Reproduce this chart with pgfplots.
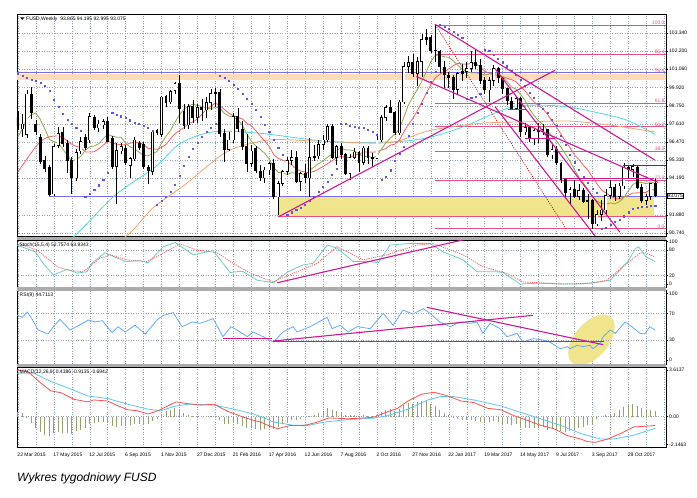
\documentclass[border=0pt]{standalone}
\usepackage{pgfplots}
\pgfplotsset{compat=1.18}
\usepackage{pgfplotstable}
\usepackage{fontspec}
\setmainfont{Liberation Sans}
\definecolor{gridc}{RGB}{150,160,180}
\definecolor{maolive}{RGB}{140,170,70}
\definecolor{mared}{RGB}{250,95,95}
\definecolor{macyan}{RGB}{80,215,225}
\definecolor{maorange}{RGB}{240,165,115}
\definecolor{sarblue}{RGB}{95,85,235}
\definecolor{fibc}{RGB}{232,80,130}
\definecolor{mag}{RGB}{205,25,150}
\definecolor{hlblue}{RGB}{120,110,230}
\definecolor{peach}{RGB}{255,220,185}
\definecolor{ybox}{RGB}{240,228,140}
\definecolor{stochg}{RGB}{110,205,195}
\definecolor{stochr}{RGB}{245,100,100}
\definecolor{rsib}{RGB}{100,170,250}
\definecolor{macdr}{RGB}{250,80,80}
\definecolor{macdc}{RGB}{90,200,245}
\definecolor{histc}{RGB}{150,160,115}
\newcommand\tf{\fontsize{5}{6}\selectfont}

\pgfplotstableread{
i O H L C
0 98.05 98.45 97.20 97.50
1 97.30 98.25 96.80 97.60
2 96.95 99.75 96.70 99.50
3 99.50 99.95 97.90 98.30
4 97.60 97.85 96.90 97.10
5 96.80 96.95 95.10 95.25
6 95.30 95.60 94.60 94.80
7 94.85 95.00 93.10 93.15
8 93.20 96.35 93.05 96.20
9 96.25 97.40 96.10 97.00
10 97.10 97.45 96.15 96.40
11 96.40 96.60 94.50 95.30
12 95.30 95.50 93.20 94.20
13 94.20 96.05 94.00 95.80
14 95.90 96.80 95.70 96.50
15 96.75 97.00 95.95 96.10
16 96.60 98.30 96.40 98.10
17 98.05 98.20 97.20 97.35
18 97.35 97.85 97.10 97.60
19 97.55 97.95 97.30 97.75
20 97.75 98.05 96.45 96.50
21 96.70 96.85 94.80 94.90
22 94.95 96.40 92.55 95.95
23 95.90 96.40 95.70 96.20
24 96.10 96.30 95.00 95.15
25 95.00 95.55 94.20 95.45
26 95.40 96.80 95.30 96.60
27 96.40 96.55 96.00 96.10
28 96.30 96.45 94.80 94.90
29 94.90 95.00 93.80 94.65
30 94.60 97.20 94.40 97.10
31 97.20 97.30 96.90 97.05
32 96.95 99.40 96.80 99.30
33 99.35 99.45 98.70 98.95
34 99.00 99.75 98.90 99.65
35 99.70 100.25 99.50 100.15
36 100.15 100.70 97.70 98.60
37 98.40 98.90 97.30 97.50
38 97.55 98.85 97.30 98.70
39 98.70 99.10 97.70 98.00
40 98.00 98.90 97.70 98.65
41 98.65 99.20 97.80 98.50
42 98.50 99.30 98.00 98.95
43 98.95 99.80 98.50 99.55
44 99.55 99.90 98.70 99.60
45 99.60 99.80 96.80 97.00
46 97.00 97.30 95.20 96.00
47 96.00 97.10 95.90 96.60
48 96.60 98.30 96.40 98.10
49 98.10 98.60 97.10 97.30
50 97.30 97.80 96.00 96.20
51 96.20 97.00 94.60 95.10
52 95.10 96.30 94.90 95.90
53 96.10 96.20 94.50 94.65
54 94.65 95.00 94.00 94.20
55 94.20 94.90 93.90 94.70
56 94.70 95.20 94.40 95.10
57 95.10 95.40 92.90 93.05
58 93.00 94.00 91.90 93.85
59 93.85 94.70 93.70 94.60
60 94.60 95.50 94.40 95.30
61 95.30 95.95 95.00 95.50
62 95.50 95.90 93.90 94.00
63 94.00 94.60 93.40 94.50
64 94.50 95.10 93.90 94.20
65 94.20 96.70 93.00 95.50
66 95.50 96.30 95.30 95.60
67 95.60 96.60 95.40 96.30
68 96.30 96.90 96.00 96.60
69 96.60 97.60 96.50 97.45
70 97.45 97.60 95.40 95.50
71 95.50 96.30 95.00 96.20
72 96.20 96.40 95.40 95.70
73 95.70 95.80 94.40 94.50
74 94.50 95.70 94.10 95.50
75 95.50 96.10 95.40 95.85
76 95.85 95.90 94.60 95.20
77 95.20 96.20 95.00 96.10
78 96.10 96.20 95.10 95.50
79 95.50 95.80 94.90 95.45
80 95.45 96.90 95.40 96.60
81 96.60 98.20 96.50 98.00
82 98.00 98.80 97.80 98.65
83 98.65 99.10 98.30 98.35
84 98.35 98.40 96.90 97.05
85 97.05 99.10 96.90 99.00
86 99.00 101.50 98.90 101.25
87 101.25 101.90 100.80 101.50
88 101.50 102.00 100.60 100.80
89 100.80 101.80 100.00 101.55
90 101.55 103.30 100.60 102.95
91 102.95 103.60 102.60 103.05
92 103.05 103.20 102.10 102.25
93 102.25 103.85 101.50 102.20
94 102.20 102.30 100.80 101.20
95 101.20 101.60 99.90 100.70
96 100.70 100.90 99.90 100.55
97 100.55 100.70 99.20 99.80
98 99.80 100.90 99.50 100.80
99 100.80 101.40 100.30 100.90
100 100.90 101.50 100.50 101.10
101 101.10 102.20 100.90 101.50
102 101.50 102.30 101.10 101.30
103 101.30 101.70 100.10 100.35
104 100.35 100.60 99.50 99.75
105 99.75 100.60 99.00 100.35
106 100.35 101.30 100.00 101.10
107 101.10 101.20 100.20 100.50
108 100.50 100.60 99.50 99.85
109 99.85 99.90 98.80 99.05
110 99.05 99.30 98.50 98.60
111 98.60 99.40 98.50 99.20
112 99.20 99.30 96.80 97.10
113 97.10 97.70 96.90 97.40
114 97.40 97.50 96.50 96.70
115 96.70 97.30 96.30 97.20
116 97.20 97.70 96.40 97.15
117 97.15 97.60 96.90 97.25
118 97.25 97.30 95.50 95.65
119 95.65 96.30 95.40 96.00
120 96.00 96.25 95.00 95.15
121 95.15 95.20 93.90 94.10
122 94.10 94.20 93.00 93.25
123 93.25 93.65 92.55 93.50
124 93.50 94.10 92.95 93.05
125 93.05 93.85 92.85 93.40
126 93.40 93.60 92.60 92.70
127 92.70 93.20 91.60 92.80
128 92.80 92.90 91.00 91.30
129 91.30 92.20 91.20 91.90
130 91.90 92.80 91.50 92.20
131 92.20 93.50 91.90 93.10
132 93.10 94.10 92.90 93.60
133 93.60 93.80 92.75 93.05
134 93.05 93.90 92.90 93.70
135 93.70 95.15 93.50 94.90
136 94.90 95.05 94.20 94.75
137 94.75 95.10 94.30 94.95
138 94.90 95.00 93.50 93.60
139 93.60 93.80 92.60 92.80
140 92.80 93.20 92.50 93.05
141 93.05 93.90 92.80 93.85
142 93.865 94.195 92.995 93.075
}\ohlc

\pgfplotstableread{
x y
0 96.8
1 97.3
2 97.9
3 98.2
4 98.3
5 97.9
6 97.3
7 96.65
8 96.49
9 96.41
10 96.03
11 95.65
12 95.29
13 95.36
14 95.57
15 95.94
16 96.18
17 96.22
18 96.37
19 96.68
20 96.96
21 96.85
22 96.78
23 96.77
24 96.4
25 96.16
26 96.04
27 95.83
28 95.63
29 95.6
30 95.74
31 95.88
32 96.39
33 96.83
34 97.21
35 97.72
36 98.18
37 98.54
38 98.74
39 98.86
40 98.78
41 98.72
42 98.63
43 98.56
44 98.68
45 98.62
46 98.28
47 98.11
48 98.04
49 97.89
50 97.54
51 96.99
52 96.53
53 96.23
54 96.01
55 95.77
56 95.39
57 94.86
58 94.57
59 94.51
60 94.43
61 94.54
62 94.51
63 94.49
64 94.38
65 94.68
66 94.9
67 95.11
68 95.28
69 95.52
70 95.71
71 95.92
72 96.11
73 95.98
74 95.97
75 95.91
76 95.74
77 95.57
78 95.57
79 95.48
80 95.59
81 96.03
82 96.42
83 96.73
84 96.96
85 97.33
86 98.04
87 98.8
88 99.33
89 99.77
90 100.31
91 100.89
92 101.54
93 101.94
94 101.94
95 101.84
96 101.81
97 101.59
98 101.32
99 101.05
100 100.91
101 100.82
102 100.83
103 100.79
104 100.69
105 100.76
106 100.79
107 100.74
108 100.59
109 100.28
110 99.94
111 99.8
112 99.47
113 99.1
114 98.55
115 98.14
116 97.8
117 97.58
118 97.21
119 96.81
120 96.56
121 96.15
122 95.72
123 95.26
124 94.74
125 94.26
126 93.89
127 93.49
128 93.01
129 92.74
130 92.61
131 92.56
132 92.63
133 92.58
134 92.71
135 92.97
136 93.4
137 93.78
138 93.96
139 93.92
140 93.85
141 93.95
142 93.87
}\olive

\pgfplotstableread{
x y
0 94.6
1 95.0
2 95.4
3 95.8
4 96.2
5 96.5
6 96.7
7 96.8
8 96.85
9 96.85
10 96.75
11 96.55
12 96.33
13 96.2
14 96.12
15 95.85
16 95.84
17 95.86
18 96.04
19 96.27
20 96.52
21 96.42
22 96.34
23 96.31
24 96.3
25 96.4
26 96.46
27 96.43
28 96.33
29 96.07
30 96.05
31 96.01
32 96.13
33 96.32
34 96.68
35 97.0
36 97.2
37 97.38
38 97.63
39 97.74
40 97.94
41 98.22
42 98.55
43 98.73
44 98.93
45 98.75
46 98.53
47 98.29
48 98.13
49 98.03
50 97.93
51 97.66
52 97.5
53 97.19
54 96.86
55 96.53
56 96.19
57 95.68
58 95.44
59 95.33
60 95.23
61 95.03
62 94.78
63 94.65
64 94.58
65 94.55
66 94.62
67 94.78
68 94.93
69 95.11
70 95.3
71 95.48
72 95.57
73 95.5
74 95.5
75 95.65
76 95.7
77 95.85
78 95.85
79 95.83
80 95.86
81 95.97
82 96.06
83 96.28
84 96.34
85 96.6
86 97.12
87 97.58
88 97.96
89 98.45
90 98.97
91 99.55
92 100.08
93 100.51
94 100.75
95 100.91
96 101.08
97 101.29
98 101.43
99 101.4
100 101.37
101 101.43
102 101.41
103 101.21
104 100.95
105 100.81
106 100.72
107 100.67
108 100.6
109 100.49
110 100.4
111 100.27
112 99.98
113 99.7
114 99.33
115 99.01
116 98.77
117 98.57
118 98.21
119 97.82
120 97.41
121 96.97
122 96.52
123 96.13
124 95.65
125 95.37
126 95.01
127 94.71
128 94.25
129 93.85
130 93.46
131 93.27
132 93.08
133 92.92
134 92.89
135 93.02
136 93.11
137 93.26
138 93.27
139 93.28
140 93.3
141 93.5
142 93.43
}\redma

\pgfplotstableread{
x y
4 88.6
12.8 90.6
21.7 93.13
30.6 94.9
36.2 96.39
43.6 97.12
54 97.02
65.8 96.6
74 96.43
80 96.47
85 96.5
91.8 96.77
99.3 97.44
105.2 98.17
110.4 98.7
115.6 98.8
122.3 98.7
128.2 98.38
135.6 97.86
142 96.95
}\cyanma

\pgfplotstableread{
x y
15 88.9
24.4 90.6
30 92.3
37.3 93.8
42 94.9
47.3 95.97
55.8 96.6
65 96.55
74 96.45
80.5 96.4
85 96.55
91.8 97.2
102.9 97.65
114 97.75
121 97.8
125.2 97.75
133 97.5
142 97.1
}\orangema

\pgfplotstableread{
x y
0 100.76
1 100.63
2 100.55
3 100.42
4 100.32
5 100.21
6 100.0
7 99.71
8 99.16
9 98.7
10 98.28
11 97.86
12 97.6
13 97.4
14 97.2
15 93.05
16 93.2
17 93.45
18 93.75
19 94.1
20 94.55
21 98.3
22 98.2
23 98.1
24 98.0
25 97.85
26 97.7
27 97.6
28 97.5
29 97.35
30 97.2
31 92.55
32 92.75
33 93.0
34 93.35
35 93.8
36 94.35
37 95.0
38 95.55
39 96.05
40 96.45
41 96.8
42 97.1
43 97.35
44 97.6
45 100.63
46 100.5
47 100.34
48 100.07
49 99.86
50 99.54
51 99.2
52 98.9
53 98.5
54 98.07
55 97.55
56 97.1
57 96.6
58 96.1
59 95.7
60 91.9
61 92.05
62 92.2
63 92.35
64 92.55
65 92.75
66 93.05
67 93.35
68 93.65
69 94.0
70 94.4
71 94.8
72 97.6
73 97.6
74 97.5
75 97.44
76 97.4
77 97.36
78 97.23
79 97.1
80 96.95
81 94.1
82 94.3
83 94.7
84 95.3
85 95.75
86 96.2
87 96.9
88 97.6
89 98.3
90 98.9
91 99.6
92 100.3
93 100.9
94 103.85
95 103.75
96 103.6
97 103.45
98 103.25
99 103.05
100 99.2
101 99.25
102 99.35
103 99.5
104 102.3
105 102.2
106 101.95
107 101.75
108 101.5
109 101.25
110 100.97
111 100.7
112 100.4
113 100.0
114 99.6
115 99.25
116 98.9
117 98.6
118 98.3
119 97.9
120 97.5
121 96.9
122 96.3
123 95.7
124 95.2
125 94.75
126 94.3
127 93.9
128 93.55
129 93.3
130 91.0
131 91.05
132 91.25
133 91.45
134 91.6
135 91.8
136 92.05
137 92.3
138 92.35
139 92.4
140 92.42
141 92.45
142 92.48
}\sar

\pgfplotstableread{
x y
-0.2 92
3.9 76
5.6 49
7.9 21
11 35
13.2 26
15.4 29
16.5 49
19.4 74
23.9 53
27.2 55
29 50
32.4 88
35 98
39.1 69
43.5 79
47.3 27
49.5 30
50.2 29
53.3 9
56.9 3
60.2 29
63.5 45
65.8 49
68.9 92
71.1 85
74.7 53
78.5 53
80.3 50
82.9 92
87.4 96
91.8 96
94.7 76
99.2 57
102.3 29
106.7 29
108.1 27
111.9 0
115.7 2
121.5 0
125.4 0
129.6 5
132 9
135.9 53
137.6 84
138.3 88
139.9 65
142 52.76
}\stochmain

\pgfplotstableread{
x y
-0.2 97
4.3 80
8.8 41
11 33
14.5 29
18.3 61
20.6 69
24.3 57
28.8 53
31.7 69
36.1 95
39.9 80
44.4 74
47.5 52
51.7 26
56.9 5
61.3 25
66.7 49
71.1 88
76.9 57
82.2 69
88.9 92
92.5 96
99.2 69
103.6 41
109 25
112.5 5
121.5 0
128.1 2
131.2 9
134.8 41
138.6 73
139.7 74
142 63.93
}\stochsig

\pgfplotstableread{
x y
-0.2 67.5
1 64
2.1 72
3.2 61
4.5 45
6.7 39
7.9 50
9.4 61
11.6 45
13.9 53
15.7 60
17.2 57
18.8 59
21 41
22.3 50
23.9 42
26.1 52
28.4 39
31 60
32.4 67
34.6 71
36.6 50
38.8 57
40.6 55
43.5 62
45.7 35
47.5 50
48.8 45
51.1 35
52.4 42
54.6 35
56.9 27
59.1 42
61.3 50
62.2 42
65.1 50
68.9 64
70 47
71.8 52
73.6 42
75.6 50
78.5 47
81.4 70
83.6 52
85.8 75
88 69
90.3 77
91.8 70
94 57
96.3 50
98.5 57
100.7 55
102.3 57
103.6 40
105.2 55
107.4 47
109 35
111.2 40
112.5 27
114.8 32
117 30
118.5 27
120.8 17
122.5 20
123 17
124.6 22
125.9 20
127.5 22
128.1 17
129.7 25
130.4 35
132 45
133.1 40
135.3 57
136.8 50
138.6 40
139.7 39
140.8 50
142 44.71
}\rsi

\pgfplotstableread{
x y
-0.2 3.6
2.2 3.5
5.1 2.6
7.3 2.0
9.6 1.85
12.5 1.34
15.6 1.14
16.9 1.29
20 1.21
22.3 0.83
24.5 0.53
26.7 0.45
29 0.2
31.2 0.45
33.4 0.83
35.2 1.14
37.9 1.0
40.8 0.89
43.7 0.96
46.8 0.4
50.3 -0.05
52.6 -0.3
54.1 -0.42
55.7 -0.68
57.9 -0.93
60.8 -0.68
63.7 -0.7
66.8 -0.42
69.3 -0.1
73.5 -0.17
76.4 -0.12
79.3 -0.05
82.4 0.38
84.6 0.64
86.9 1.21
89.8 1.72
92.7 1.89
95.8 1.6
98.7 1.21
101.6 1.09
104.7 0.64
107.6 0.53
110.5 0.08
113.6 -0.3
116.5 -0.68
119.4 -0.93
122.5 -1.48
125.4 -1.74
126.9 -1.94
128.7 -1.99
131.4 -1.74
134.3 -1.31
137.2 -0.8
141 -0.72
142 -0.69
}\macdred

\pgfplotstableread{
x y
-0.2 3.36
3.6 3.36
7.3 2.73
11.1 2.23
15.6 1.6
20 1.4
24.5 0.96
29 0.58
31.9 0.45
34.7 0.79
37.9 0.96
43.7 0.9
48.1 0.58
52.6 0.2
57 -0.42
61.5 -0.68
64.6 -0.68
68.4 -0.42
73.5 -0.23
79.3 -0.12
82.4 0.08
86.9 0.58
91.3 1.29
94.2 1.55
97.1 1.55
101.6 1.29
107.6 0.83
112 0.33
116.5 -0.17
120.9 -0.68
125.4 -1.31
129.8 -1.74
132.7 -1.74
137.2 -1.44
142 -0.91
}\macdcyan

\pgfplotstableread{
x y
0 0.35
1 0.3
2 -0.1
3 -0.5
4 -0.9
5 -1.2
6 -1.4
7 -1.5
8 -1.3
9 -1.2
10 -1.25
11 -1.3
12 -1.35
13 -1.1
14 -1.0
15 -0.9
16 -0.6
17 -0.5
18 -0.45
19 -0.4
20 -0.5
21 -0.75
22 -0.8
23 -0.75
24 -0.7
25 -0.65
26 -0.6
27 -0.55
28 -0.65
29 -0.6
30 -0.35
31 -0.2
32 0.15
33 0.4
34 0.55
35 0.7
36 0.55
37 0.3
38 0.15
39 0.05
40 0.05
41 0.0
42 0.02
43 0.05
44 0.05
45 -0.3
46 -0.55
47 -0.6
48 -0.5
49 -0.55
50 -0.7
51 -0.85
52 -0.85
53 -0.95
54 -1.0
55 -0.95
56 -0.85
57 -0.95
58 -0.8
59 -0.6
60 -0.4
61 -0.25
62 -0.25
63 -0.15
64 -0.1
65 0.05
66 0.15
67 0.3
68 0.45
69 0.65
70 0.55
71 0.45
72 0.35
73 0.15
74 0.1
75 0.1
76 0.05
77 0.1
78 0.05
79 0.05
80 0.15
81 0.35
82 0.55
83 0.6
84 0.45
85 0.6
86 0.9
87 1.05
88 1.0
89 1.1
90 1.2
91 1.2
92 1.0
93 0.85
94 0.55
95 0.3
96 0.1
97 -0.1
98 -0.2
99 -0.25
100 -0.3
101 -0.3
102 -0.35
103 -0.4
104 -0.5
105 -0.45
106 -0.35
107 -0.45
108 -0.55
109 -0.6
110 -0.65
111 -0.6
112 -0.8
113 -0.85
114 -0.9
115 -0.85
116 -0.85
117 -0.8
118 -1.0
119 -0.95
120 -1.0
121 -1.1
122 -1.2
123 -1.1
124 -1.0
125 -0.9
126 -0.8
127 -0.65
128 -0.55
129 -0.2
130 0.0
131 0.1
132 0.2
133 0.3
134 0.5
135 0.75
136 0.9
137 0.95
138 0.85
139 0.7
140 0.6
141 0.55
142 0.44
}\hist

\pgfplotsset{mt/.style={scale only axis, width=649pt, xmin=-0.2, xmax=144.4,
  axis line style={draw=black, line width=0.6pt},
  xtick={0,4,...,144}, xticklabels={}, xmajorgrids,
  major grid style={gridc, line width=0.4pt, dash pattern=on 1pt off 1.5pt},
  ytick pos=right, yticklabel pos=right, tick align=outside,
  major tick length=2pt, tick style={black, line width=0.4pt}, xtick style={draw=none},
  ticklabel style={font=\tf}, yticklabel style={inner sep=1pt},
  clip mode=individual}}

\begin{document}
\begin{tikzpicture}
\path[use as bounding box] (0pt,0pt) rectangle (697pt,-498pt);

% ---------------- price panel
\begin{axis}[mt, at={(17pt,-14pt)}, anchor=north west, height=222.5pt,
  ymin=90.52, ymax=104.54,
  ytick={90.74,91.88,94.19,95.33,96.47,97.61,98.75,99.92,101.06,102.2,103.34},
  yticklabels={90.740,91.880,94.190,95.330,96.470,97.610,98.750,99.920,101.060,102.200,103.340},
  ymajorgrids]
\addplot[fill=peach, draw=none] coordinates {(-1,100.35) (146,100.35) (146,100.75) (-1,100.75)} -- cycle;
\addplot[fill=ybox, draw=none] coordinates {(58,91.77) (141.7,91.77) (141.7,93.0) (58,93.0)} -- cycle;
\addplot[hlblue, line width=1.1pt] coordinates {(-1,100.85) (146,100.85)};
\addplot[hlblue, line width=0.8pt] coordinates {(7,93.03) (146,93.03)};
\addplot[fibc, line width=0.8pt] coordinates {(58,91.77) (146,91.77)};
% fib levels
\addplot[fibc, line width=0.7pt] coordinates {(93,103.85) (146,103.85)};
\addplot[fibc, line width=0.7pt] coordinates {(93,101.98) (146,101.98)};
\addplot[fibc, line width=0.7pt] coordinates {(93,98.94) (146,98.94)};
\addplot[fibc, line width=0.7pt] coordinates {(93,97.43) (146,97.43)};
\addplot[fibc, line width=0.7pt] coordinates {(93,95.91) (146,95.91)};
\addplot[fibc, line width=0.7pt] coordinates {(93,94.04) (146,94.04)};
\addplot[fibc, line width=0.7pt] coordinates {(93,91.01) (146,91.01)};
\addplot[red!80!black, line width=0.7pt, dash pattern=on 1pt off 1.3pt] coordinates {(93,103.85) (122.3,90.93)};
% moving averages
\addplot[macyan, line width=0.8pt, smooth] table[x=x,y=y] {\cyanma};
\addplot[maorange, line width=0.8pt, smooth] table[x=x,y=y] {\orangema};
\addplot[mared, line width=0.8pt] table[x=x,y=y] {\redma};
\addplot[maolive, line width=0.8pt] table[x=x,y=y] {\olive};
% candles
\addplot[draw=none, mark=none, error bars/.cd, y dir=minus, y explicit, error mark=none,
  error bar style={draw=black, line width=0.55pt, solid}]
  table[x=i, y=H, y error minus expr={\thisrow{H}-\thisrow{L}}] {\ohlc};
\addplot[draw=none, mark=none, error bars/.cd, y dir=minus, y explicit, error mark=none,
  error bar style={draw=black, line width=2.9pt, solid}]
  table[x=i, y expr={max(\thisrow{O},\thisrow{C})+0.02}, y error minus expr={abs(\thisrow{O}-\thisrow{C})+0.04}] {\ohlc};
\addplot[draw=none, mark=none, restrict expr to domain={\thisrow{C}-\thisrow{O}}{0.12:100},
  error bars/.cd, y dir=minus, y explicit, error mark=none,
  error bar style={draw=white, line width=1.7pt, solid}]
  table[x=i, y expr={\thisrow{C}-0.02}, y error minus expr={\thisrow{C}-\thisrow{O}-0.04}] {\ohlc};
% parabolic SAR
\addplot[only marks, mark=square*, mark size=0.55pt, sarblue] table[x=x,y=y] {\sar};
% trend lines
\addplot[mag, line width=1.1pt] coordinates {(58.1,91.77) (119.7,101.0)};
\addplot[mag, line width=1.1pt] coordinates {(92.9,103.9) (141.9,95.34)};
\addplot[mag, line width=1.1pt] coordinates {(88.8,100.6) (142.6,93.93)};
\addplot[mag, line width=1.1pt] coordinates {(106.3,101.1) (134.1,90.8)};
\addplot[mag, line width=1.1pt] coordinates {(106.3,98.7) (128.6,90.55)};
\addplot[mag, line width=1pt] coordinates {(109.3,98.5) (113.5,98.5)};
\addplot[mag, line width=1pt] coordinates {(113,96.7) (119.7,96.7)};
\addplot[mag, line width=1pt] coordinates {(121.5,94.15) (141.7,94.15)};
\addplot[red!85!black, line width=0.9pt] coordinates {(134.8,95.0) (144.4,95.0)};
% fib labels
\foreach \v/\t in {103.85/100.0,101.98/85.4,100.82/76.4,98.94/61.8,97.43/50.0,95.91/38.2,94.04/23.6,91.01/0.0}{
  \edef\temp{\noexpand\node[fibc, anchor=south east, inner sep=0.4pt, font=\noexpand\tf] at (axis cs:144.2,\v) {\t};}\temp}
\node[draw=black, fill=white, anchor=west, inner sep=0.8pt, font=\tf, xshift=0.5pt] at (axis cs:144.4,93.075) {93.075};
\node[anchor=north west, inner sep=0pt, font=\tf] at (rel axis cs:0,1) [xshift=9pt, yshift=-2.3pt] {FUSD,Weekly\ \ 93.865 94.195 92.995 93.075};
\end{axis}
\fill[black] (20pt,-17.3pt) -- (24.5pt,-17.3pt) -- (22.25pt,-19.8pt) -- cycle;

% ---------------- stochastic
\begin{axis}[mt, at={(17pt,-240pt)}, anchor=north west, height=47pt,
  ymin=-7.09, ymax=104, ytick={0,20,80,100}, yticklabels={0,20,80,100}]
\addplot[gridc, line width=0.4pt, dash pattern=on 1pt off 1.5pt] coordinates {(-1,20) (146,20)};
\addplot[gridc, line width=0.4pt, dash pattern=on 1pt off 1.5pt] coordinates {(-1,80) (146,80)};
\addplot[stochg, line width=0.8pt] table[x=x,y=y] {\stochmain};
\addplot[stochr, line width=0.8pt, dash pattern=on 1.2pt off 1pt] table[x=x,y=y] {\stochsig};
\addplot[mag, line width=1.1pt] coordinates {(57.8,3) (100.7,108)};
\node[anchor=north west, inner sep=0pt, font=\tf] at (rel axis cs:0,1) [xshift=2.5pt, yshift=-2.3pt] {Stoch(15,5,4) 52.7574 63.9343};
\end{axis}

% ---------------- RSI
\begin{axis}[mt, at={(17pt,-290.5pt)}, anchor=north west, height=73.5pt,
  ymin=-6, ymax=104.2, ytick={0,30,70,100}, yticklabels={0,30,70,100}]
\begin{scope}
\clip (rel axis cs:0,0) rectangle (rel axis cs:1,1);
\fill[ybox, rotate around={-40:(axis cs:127.8,30)}] (axis cs:127.8,30) ellipse [x radius=17pt, y radius=30pt];
\end{scope}
\addplot[gridc, line width=0.4pt, dash pattern=on 1pt off 1.5pt] coordinates {(-1,30) (146,30)};
\addplot[gridc, line width=0.4pt, dash pattern=on 1pt off 1.5pt] coordinates {(-1,70) (146,70)};
\addplot[rsib, line width=0.8pt] table[x=x,y=y] {\rsi};
\addplot[mag, line width=1.1pt] coordinates {(45.7,32.5) (56.6,32.5)};
\addplot[mag, line width=1.1pt] coordinates {(56.9,27.4) (130.5,27.4)};
\addplot[mag, line width=1.1pt] coordinates {(56.9,28.5) (114.8,67)};
\addplot[mag, line width=1.1pt] coordinates {(91.1,79) (130.4,23)};
\node[anchor=north west, inner sep=0pt, font=\tf] at (rel axis cs:0,1) [xshift=2.5pt, yshift=-2.3pt] {RSI(9) 44.7113};
\end{axis}

% ---------------- MACD
\begin{axis}[mt, at={(17pt,-367pt)}, anchor=north west, height=80.5pt,
  ymin=-2.395, ymax=3.845, ytick={-2.1463,0,3.6137}, yticklabels={-2.1463,0.00,3.6137},
  xticklabels={22 Mar 2015,,17 May 2015,,12 Jul 2015,,6 Sep 2015,,1 Nov 2015,,27 Dec 2015,,21 Feb 2016,,17 Apr 2016,,12 Jun 2016,,7 Aug 2016,,2 Oct 2016,,27 Nov 2016,,22 Jan 2017,,19 Mar 2017,,14 May 2017,,9 Jul 2017,,3 Sep 2017,,29 Oct 2017,,},
  xticklabel style={anchor=north west, inner sep=0pt, yshift=-3pt, xshift=-0.6pt}]
\addplot[gridc, line width=0.4pt, dash pattern=on 1pt off 1.5pt] coordinates {(-1,0) (146,0)};
\addplot[ycomb, histc, line width=1pt] table[x=x,y=y] {\hist};
\addplot[macdc, line width=0.8pt] table[x=x,y=y] {\macdcyan};
\addplot[macdr, line width=0.8pt] table[x=x,y=y] {\macdred};
\node[anchor=north west, inner sep=0pt, font=\tf] at (rel axis cs:0,1) [xshift=2.5pt, yshift=-2.3pt] {MACD(12,26,9) 0.4386 -0.9135 -0.6942};
\end{axis}

% separators
\fill[gray!65] (17pt,-236.5pt) rectangle (666pt,-240pt);
\fill[gray!65] (17pt,-287pt) rectangle (666pt,-290.5pt);
\fill[gray!65] (17pt,-364pt) rectangle (666pt,-367pt);

\node[anchor=west, inner sep=0pt, font=\fontsize{12}{14}\selectfont\itshape] at (17pt,-478pt) {Wykres tygodniowy FUSD};
\end{tikzpicture}
\end{document}
